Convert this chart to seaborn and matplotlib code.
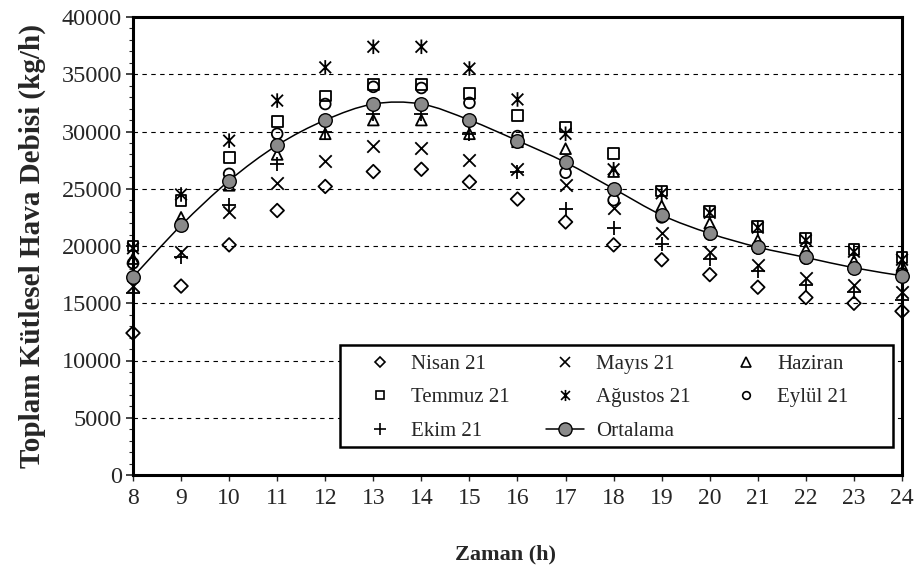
import numpy as np
import pandas as pd
import matplotlib
matplotlib.use("Agg")
import matplotlib.pyplot as plt
import seaborn as sns
from matplotlib.path import Path
from matplotlib.patches import PathPatch, Rectangle
from matplotlib.lines import Line2D
from matplotlib.ticker import MultipleLocator

# Hourly total air mass flow (kg/h) for each month's 21st day
hours = list(range(8, 25))
nisan = [12400, 16500, 20100, 23100, 25200, 26500, 26700, 25600, 24100, 22100, 20100, 18800, 17500, 16400, 15500, 15000, 14300]
mayis = [16500, 19500, 23000, 25500, 27400, 28700, 28600, 27500, 26700, 25300, 23300, 21100, 19500, 18300, 17200, 16600, 16000]
haziran = [18900, 22500, 25300, 28000, 29800, 31000, 31000, 29800, 29100, 28500, 26500, 23500, 22000, 20500, 19700, 18700, 18300]
temmuz = [20000, 24000, 27700, 30900, 33100, 34100, 34100, 33300, 31400, 30400, 28100, 24800, 23000, 21700, 20700, 19700, 19000]
agustos = [19800, 24500, 29200, 32700, 35600, 37400, 37400, 35500, 32800, 29800, 26700, 24600, 22900, 21600, 20500, 19500, 18800]
eylul = [18500, 21900, 26300, 29800, 32400, 33900, 33800, 32500, 29600, 26400, 24000, 22500, 21000, 19800, 18900, 18000, 17600]
ekim = [15900, 19000, 23600, 27200, 30000, 31500, 31500, 29800, 26500, 23200, 21600, 20200, 18900, 17800, 16600, 16000, 15300]
ortalama = [17300, 21800, 25700, 28800, 31000, 32400, 32400, 31000, 29200, 27300, 25000, 22700, 21100, 19900, 19000, 18100, 17400]

month_labels = ["Nisan 21", "Mayıs 21", "Haziran", "Temmuz 21", "Ağustos 21", "Eylül 21", "Ekim 21"]
month_values = [nisan, mayis, haziran, temmuz, agustos, eylul, ekim]
avg_label = "Ortalama"
x_label = "Zaman (h)"
y_label = "Toplam Kütlesel Hava Debisi (kg/h)"

df = pd.DataFrame({
    "Saat": hours * len(month_labels),
    "Debi": [v for vals in month_values for v in vals],
    "Ay": [m for m in month_labels for _ in hours],
})

# Star marker: an X crossed by a vertical stroke
star = Path([(-0.8, -0.8), (0.8, 0.8), (-0.8, 0.8), (0.8, -0.8), (0, -1), (0, 1)],
            [Path.MOVETO, Path.LINETO, Path.MOVETO, Path.LINETO, Path.MOVETO, Path.LINETO])

styles = {
    "Nisan 21": dict(marker="D", s=48, open=True),
    "Mayıs 21": dict(marker="x", s=80, open=False),
    "Haziran": dict(marker="^", s=60, open=True),
    "Temmuz 21": dict(marker="s", s=60, open=True),
    "Ağustos 21": dict(marker=star, s=110, open=True),
    "Eylül 21": dict(marker="o", s=60, open=True),
    "Ekim 21": dict(marker="+", s=100, open=False),
}

sns.set_theme(style="white")
plt.rcParams["font.family"] = ["Liberation Serif", "DejaVu Serif"]

fig = plt.figure(figsize=(9.2, 5.78), dpi=100)
ax = fig.add_axes([133 / 920, 1 - 475 / 578, 769 / 920, 458 / 578])

for label in month_labels:
    st = styles[label]
    sub = df[df["Ay"] == label]
    if st["open"]:
        sns.scatterplot(data=sub, x="Saat", y="Debi", ax=ax, marker=st["marker"], s=st["s"],
                        facecolor="none", edgecolor="black", linewidth=1.3,
                        zorder=3, clip_on=False, legend=False)
    else:
        sns.scatterplot(data=sub, x="Saat", y="Debi", ax=ax, marker=st["marker"], s=st["s"],
                        color="black", linewidth=1.3, zorder=3, clip_on=False, legend=False)


def smooth_path(xs, ys):
    pts = np.column_stack([xs, ys]).astype(float)
    ext = np.vstack([pts[0], pts, pts[-1]])
    verts = [tuple(pts[0])]
    codes = [Path.MOVETO]
    for i in range(len(pts) - 1):
        p0, p1, p2, p3 = ext[i], ext[i + 1], ext[i + 2], ext[i + 3]
        c1 = p1 + (p2 - p0) / 6
        c2 = p2 - (p3 - p1) / 6
        verts += [tuple(c1), tuple(c2), tuple(p2)]
        codes += [Path.CURVE4] * 3
    return Path(verts, codes)


ax.add_patch(PathPatch(smooth_path(hours, ortalama), facecolor="none",
                       edgecolor="black", lw=1.1, zorder=4))
sns.scatterplot(x=hours, y=ortalama, ax=ax, marker="o", s=95, color="#8a8a8a",
                edgecolor="black", linewidth=1.0, zorder=5, clip_on=False, legend=False)

ax.set_xlim(8, 24)
ax.set_ylim(0, 40000)
ax.yaxis.set_major_locator(MultipleLocator(5000))
ax.yaxis.set_minor_locator(MultipleLocator(1000))
ax.set_xticks(hours)
ax.set_xticklabels([str(h) for h in hours])

ax.yaxis.grid(True, which="major", linestyle=(0, (4, 4)), color="black", linewidth=0.8)
ax.xaxis.grid(False)
ax.set_axisbelow(True)

for sp in ax.spines.values():
    sp.set_visible(True)
    sp.set_color("black")
    sp.set_linewidth(2.2)

ax.tick_params(axis="y", which="major", direction="out", length=5, width=1.2,
               labelsize=17.5, pad=3, left=True)
ax.tick_params(axis="y", which="minor", direction="out", length=3, width=0.8, left=True)
ax.tick_params(axis="x", which="major", direction="out", length=4, width=1.0,
               labelsize=17, pad=5, bottom=True)

ax.set_xlabel(x_label, fontsize=16, fontweight="bold")
ax.set_ylabel(y_label, fontsize=21, fontweight="bold")
ax.xaxis.set_label_coords(0.484, -0.151)
ax.yaxis.set_label_coords(-0.113, 0.5)


def mk(marker, ms, open_=True):
    if open_:
        return Line2D([], [], linestyle="none", marker=marker, markersize=ms,
                      markerfacecolor="none", markeredgecolor="black", markeredgewidth=1.2)
    return Line2D([], [], linestyle="none", marker=marker, markersize=ms,
                  color="black", markeredgewidth=1.2)


h = {
    "Nisan 21": mk("D", 5.5),
    "Mayıs 21": mk("x", 7, False),
    "Haziran": mk("^", 6.5),
    "Temmuz 21": mk("s", 6),
    "Ağustos 21": mk(star, 8),
    "Eylül 21": mk("o", 5.5),
    "Ekim 21": mk("+", 9, False),
}
h_avg = Line2D([], [], color="black", lw=1.1, marker="o", markersize=9.5,
               markerfacecolor="#8a8a8a", markeredgecolor="black")

# Legend box drawn as a fixed rectangle, entries laid out inside it
ax.add_patch(Rectangle((0.269, 0.061), 0.719, 0.223, transform=ax.transAxes,
                       facecolor="white", edgecolor="black", linewidth=1.8,
                       zorder=6, clip_on=False))

order = ["Nisan 21", "Temmuz 21", "Ekim 21", "Mayıs 21", "Ağustos 21", avg_label, "Haziran", "Eylül 21"]
handles = [h_avg if k == avg_label else h[k] for k in order]
leg = ax.legend(handles, order, ncol=3, loc="upper left",
                bbox_to_anchor=(0.297, 0.263), frameon=False,
                fontsize=15, handlelength=1.8, handletextpad=0.6, columnspacing=1.75,
                labelspacing=0.66, borderpad=0, borderaxespad=0)
leg.set_zorder(7)

fig.savefig("out.png", dpi=100, facecolor="white")
